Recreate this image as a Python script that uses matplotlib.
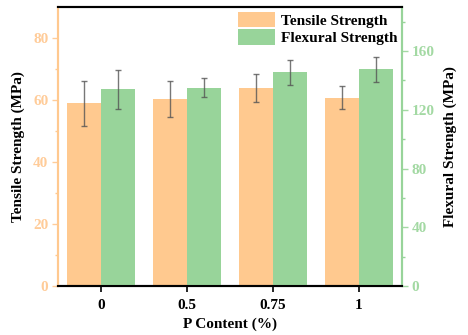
import matplotlib
matplotlib.use("Agg")
import matplotlib.pyplot as plt
import numpy as np
from matplotlib.patches import Patch

plt.rcParams['font.family'] = ['Liberation Serif', 'DejaVu Serif']
plt.rcParams['font.weight'] = 'bold'
plt.rcParams['font.size'] = 11

categories = ["0", "0.5", "0.75", "1"]
tensile = [59.0, 60.3, 63.8, 60.8]
tensile_err = [7.3, 5.7, 4.5, 3.8]
flexural = [134.0, 135.1, 145.5, 147.5]
flexural_err = [13.3, 6.4, 8.5, 8.7]

orange = "#FFC98F"
green = "#98D49A"
orange_txt = "#FFCC99"
green_txt = "#A3D9A3"

x = np.arange(len(categories))
w = 0.4

fig = plt.figure(figsize=(4.68, 3.35), dpi=100)
ax = fig.add_axes([0.124, 0.146, 0.735, 0.833])
ax2 = ax.twinx()

ax.bar(x - w / 2, tensile, w, color=orange, zorder=1)
ax.errorbar(x - w / 2, tensile, yerr=tensile_err, fmt="none", ecolor="#555555",
            elinewidth=1, capsize=2.5, capthick=1, alpha=0.8, zorder=3)
ax2.bar(x + w / 2, flexural, w, color=green, zorder=1)
ax2.errorbar(x + w / 2, flexural, yerr=flexural_err, fmt="none", ecolor="#555555",
             elinewidth=1, capsize=2.5, capthick=1, alpha=0.8, zorder=3)

ax.set_xlim(-0.5, 3.5)
ax.set_ylim(0, 90)
ax2.set_ylim(0, 190)
ax.set_xticks(x)
ax.set_xticklabels(categories)
ax.set_yticks([0, 20, 40, 60, 80])
ax.set_yticks([10, 30, 50, 70], minor=True)
ax2.set_yticks([0, 40, 80, 120, 160])
ax2.set_yticks([20, 60, 100, 140, 180], minor=True)

ax.set_xlabel("P Content (%)", fontweight="bold", labelpad=4)
ax.set_ylabel("Tensile Strength (MPa)", fontweight="bold", labelpad=6)
ax2.set_ylabel("Flexural Strength (MPa)", fontweight="bold", labelpad=6)

for a in (ax, ax2):
    for s in a.spines.values():
        s.set_linewidth(1.5)
    a.spines["top"].set_color("black")
    a.spines["bottom"].set_color("black")
    a.spines["left"].set_color(orange)
    a.spines["right"].set_color(green)

ax.tick_params(axis="y", colors=orange_txt, length=4, width=1, pad=3)
ax.tick_params(axis="y", which="minor", colors=orange, length=2.5, width=1)
ax.tick_params(axis="x", length=4, width=1.2, pad=5)
ax2.tick_params(axis="y", colors=green_txt, length=4, width=1, pad=3)
ax2.tick_params(axis="y", which="minor", colors=green, length=2.5, width=1)

handles = [Patch(facecolor=orange, label="Tensile Strength"),
           Patch(facecolor=green, label="Flexural Strength")]
ax2.legend(handles=handles, loc="upper right", frameon=False,
           handlelength=2.4, handleheight=1.15, labelspacing=0.12,
           handletextpad=0.35, borderaxespad=-0.1, prop={"weight": "bold", "size": 11.1})

fig.savefig("out.png", dpi=100)
